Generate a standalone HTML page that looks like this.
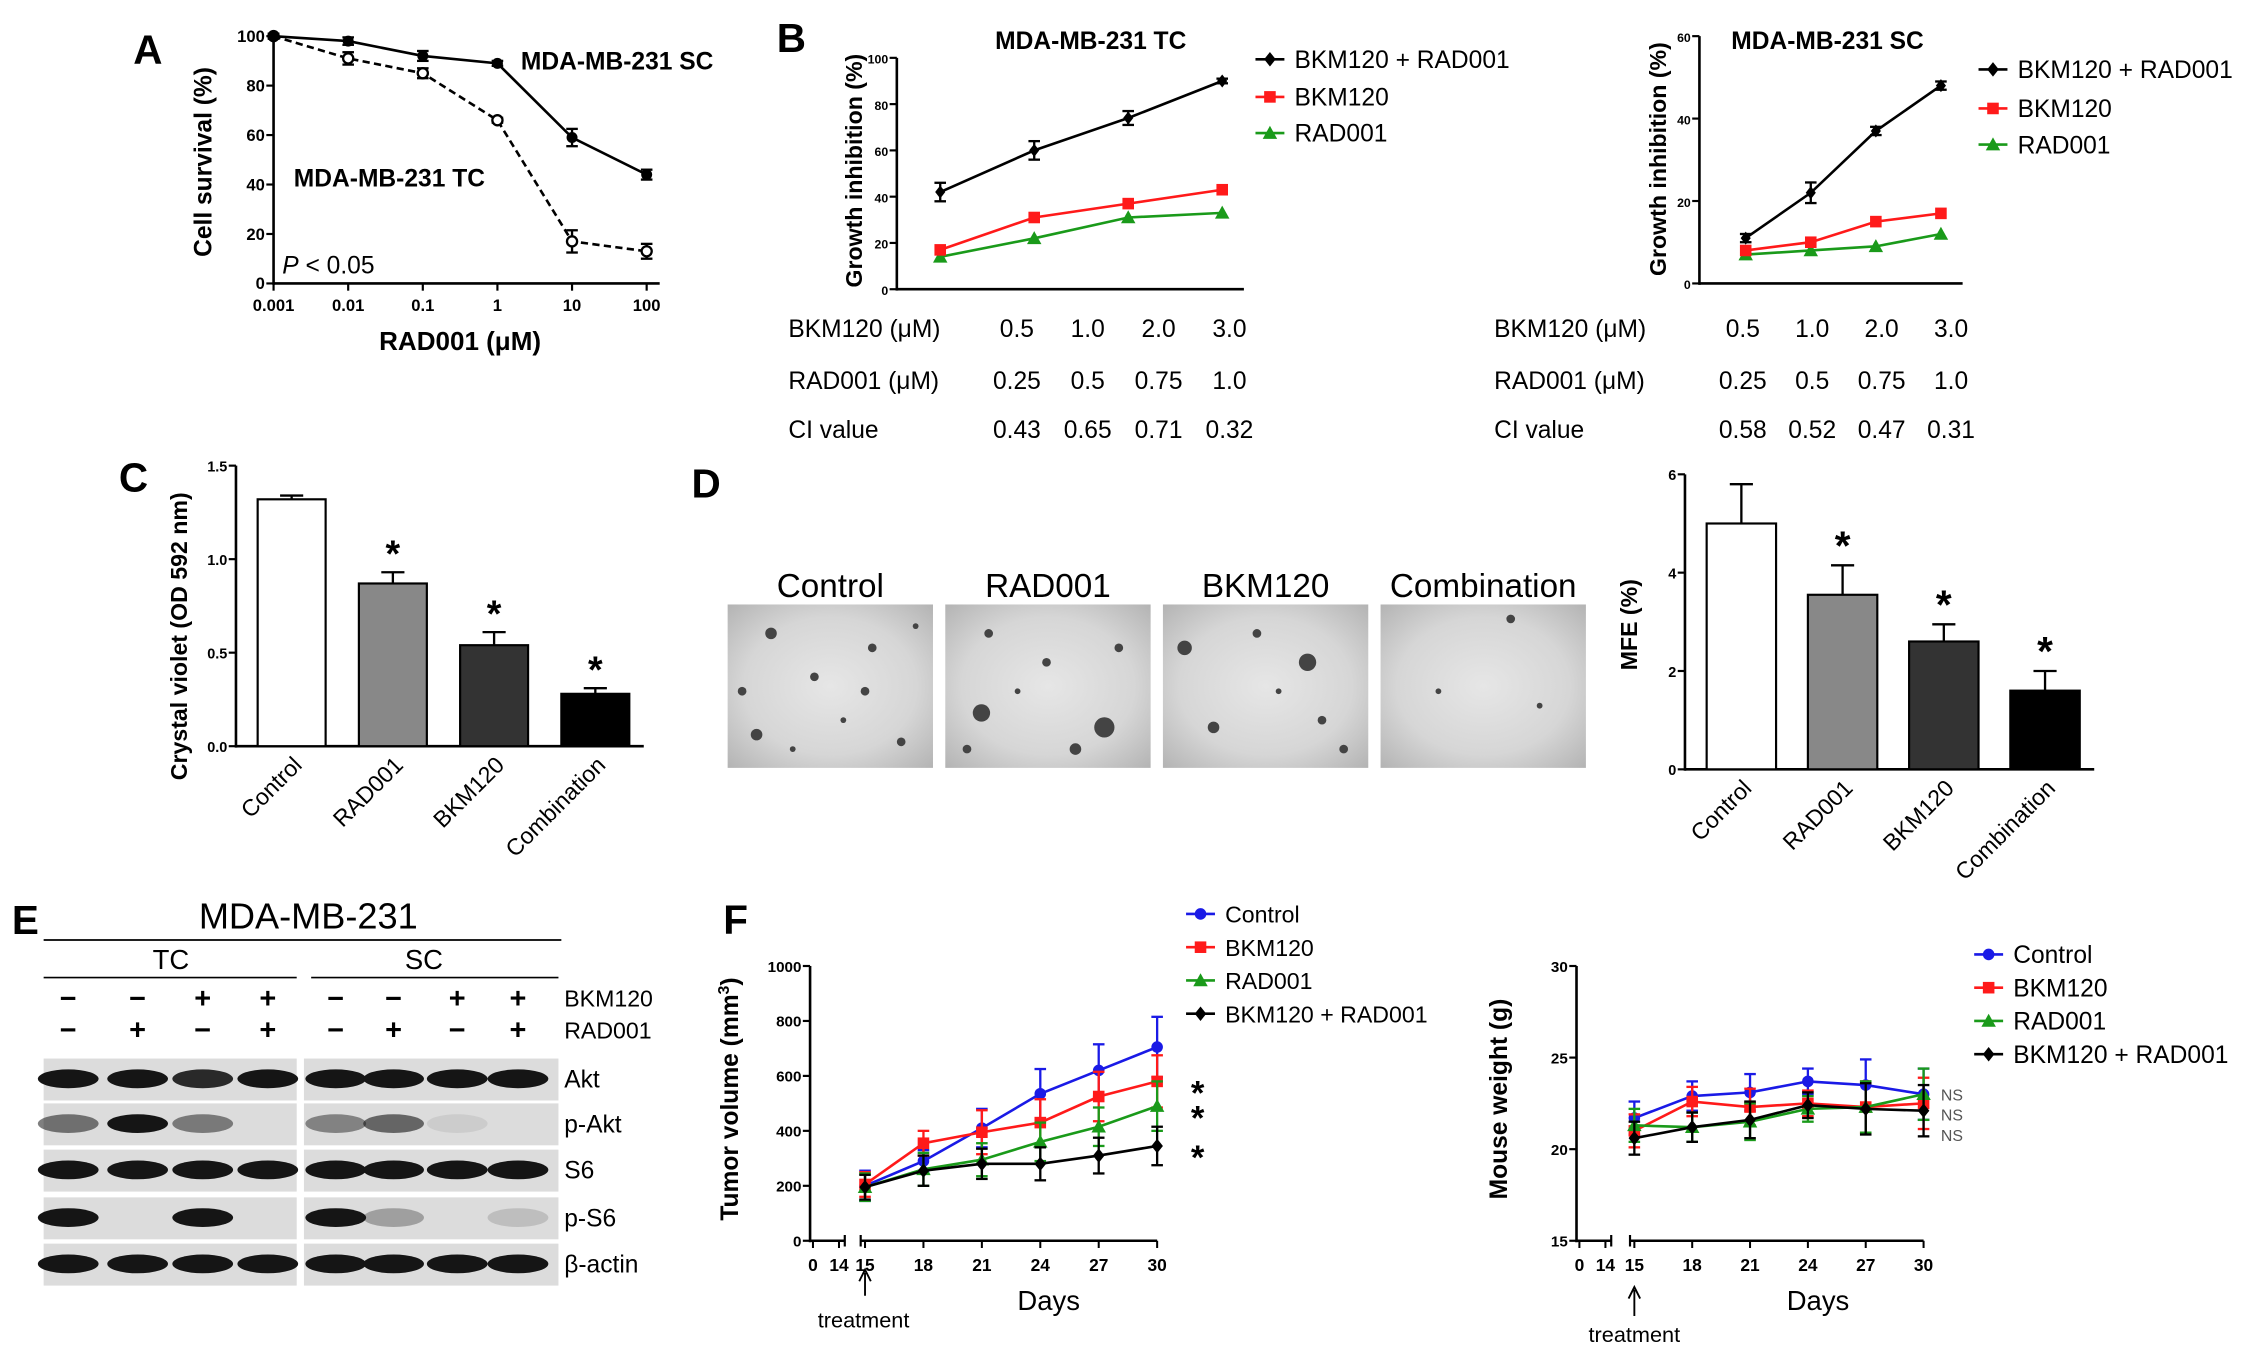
<!DOCTYPE html>
<html><head><meta charset="utf-8"><style>
html,body{margin:0;padding:0;background:#fff;}
svg{display:block;font-family:"Liberation Sans",sans-serif;}
.b{font-weight:bold}
</style></head><body>
<svg id="fig" xmlns="http://www.w3.org/2000/svg" width="2268" height="1355" viewBox="0 0 1568 937">
<defs>
<radialGradient id="micro" cx="50%" cy="50%" r="70%">
<stop offset="0" stop-color="#e6e6e6"/><stop offset="0.6" stop-color="#d6d6d6"/><stop offset="1" stop-color="#b4b4b4"/>
</radialGradient>
</defs>
<rect width="1568" height="937" fill="#fff"/>
<text x="92" y="44" font-size="28" class="b">A</text>
<text transform="translate(146,112) rotate(-90)" text-anchor="middle" font-size="17" class="b">Cell survival (%)</text>
<text x="318" y="242" text-anchor="middle" font-size="18" class="b">RAD001 (μM)</text>
<text x="360" y="48" font-size="17" class="b">MDA-MB-231 SC</text>
<text x="203" y="129" font-size="17" class="b">MDA-MB-231 TC</text>
<text x="195" y="189" font-size="17"><tspan font-style="italic">P</tspan> &lt; 0.05</text>
<text x="537" y="36" font-size="28" class="b">B</text>
<text x="688" y="34" font-size="17" class="b">MDA-MB-231 TC</text>
<text transform="translate(596,118) rotate(-90)" text-anchor="middle" font-size="16" class="b">Growth inhibition (%)</text>
<text x="1197" y="34" font-size="17" class="b">MDA-MB-231 SC</text>
<text transform="translate(1152,110) rotate(-90)" text-anchor="middle" font-size="16" class="b">Growth inhibition (%)</text>
<text x="82" y="340" font-size="28" class="b">C</text>
<text transform="translate(129,440) rotate(-90)" text-anchor="middle" font-size="16" class="b">Crystal violet (OD 592 nm)</text>
<text x="478" y="344" font-size="28" class="b">D</text>
<text transform="translate(1132,432) rotate(-90)" text-anchor="middle" font-size="16" class="b">MFE (%)</text>
<text x="8" y="646" font-size="28" class="b">E</text>
<text x="500" y="646" font-size="28" class="b">F</text>
<text transform="translate(510,760) rotate(-90)" text-anchor="middle" font-size="17" class="b">Tumor volume (mm<tspan dy="-6" font-size="11">3</tspan><tspan dy="6">)</tspan></text>
<text x="725" y="906" text-anchor="middle" font-size="19">Days</text>
<text x="597" y="918" text-anchor="middle" font-size="15">treatment</text>
<path d="M598 896 V880 M594 886 L598 878 L602 886" stroke="#000" stroke-width="1.3" fill="none"/>
<text transform="translate(1042,760) rotate(-90)" text-anchor="middle" font-size="17" class="b">Mouse weight (g)</text>
<text x="1257" y="906" text-anchor="middle" font-size="19">Days</text>
<text x="1130" y="928" text-anchor="middle" font-size="15">treatment</text>
<path d="M1130 910 V892 M1126 898 L1130 890 L1134 898" stroke="#000" stroke-width="1.3" fill="none"/>
<text x="213" y="642" text-anchor="middle" font-size="25">MDA-MB-231</text>
<line x1="30" y1="650" x2="388" y2="650" stroke="#000" stroke-width="1.2"/>
<text x="118" y="670" text-anchor="middle" font-size="19">TC</text>
<line x1="30" y1="676" x2="205" y2="676" stroke="#000" stroke-width="1.2"/>
<text x="293" y="670" text-anchor="middle" font-size="19">SC</text>
<line x1="215" y1="676" x2="386" y2="676" stroke="#000" stroke-width="1.2"/>
<text x="390" y="696" font-size="16">BKM120</text>
<text x="390" y="718" font-size="16">RAD001</text>
<g id="layer"></g>
</svg>
<script>
const aDoses = ["0.001","0.01","0.1","1","10","100"];
const aSC = [100, 98, 92, 89, 59, 44];
const aSCerr = [1, 1.5, 2, 1, 3.5, 2];
const aTC = [100, 91, 85, 66, 17, 13];
const aTCerr = [1, 2.5, 2, 1, 4.5, 3];
const aYTicks = [0, 20, 40, 60, 80, 100];

const bSeriesNames = ["BKM120 + RAD001", "BKM120", "RAD001"];
const bTCCombo = [42, 60, 74, 90];
const bTCBkm = [17, 31, 37, 43];
const bTCRad = [14, 22, 31, 33];
const bTCComboErr = [4, 4, 3, 1];
const bTCYTicks = [0, 20, 40, 60, 80, 100];
const bSCCombo = [11, 22, 37, 48];
const bSCBkm = [8, 10, 15, 17];
const bSCRad = [7, 8, 9, 12];
const bSCComboErr = [1, 2.5, 1, 1];
const bSCYTicks = [0, 20, 40, 60];
const bBkmDose = ["0.5", "1.0", "2.0", "3.0"];
const bRadDose = ["0.25", "0.5", "0.75", "1.0"];
const bTCci = ["0.43", "0.65", "0.71", "0.32"];
const bSCci = ["0.58", "0.52", "0.47", "0.31"];

const barCats = ["Control", "RAD001", "BKM120", "Combination"];
const cVals = [1.32, 0.87, 0.54, 0.28];
const cErr = [0.02, 0.06, 0.07, 0.03];
const cYTicks = [0, 0.5, 1.0, 1.5];
const cTickLabels = ["0.0", "0.5", "1.0", "1.5"];
const dVals = [5.0, 3.55, 2.6, 1.6];
const dErr = [0.8, 0.6, 0.35, 0.4];
const dYTicks = [0, 2, 4, 6];

const eBkm = ["−","−","+","+","−","−","+","+"];
const eRad = ["−","+","−","+","−","+","−","+"];
const eRows = ["Akt", "p-Akt", "S6", "p-S6", "β-actin"];
const eAkt = [1,1,0.9,1, 1,1,1,1];
const ePAkt = [0.55,1,0.5,0, 0.45,0.6,0.08,0];
const eS6 = [1,1,1,1, 1,1,1,1];
const ePS6 = [1,0,1,0, 1,0.3,0,0.15];
const eActin = [1,1,1,1, 1,1,1,1];

const fDays = [15, 18, 21, 24, 27, 30];
const fNames = ["Control", "BKM120", "RAD001", "BKM120 + RAD001"];
const fCtrl = [200, 290, 410, 535, 620, 705];
const fCtrlErr = [55, 40, 70, 90, 95, 110];
const fBkm = [205, 355, 395, 430, 525, 580];
const fBkmErr = [45, 45, 80, 85, 90, 95];
const fRad = [195, 260, 295, 360, 415, 490];
const fRadErr = [50, 60, 60, 70, 70, 90];
const fCombo = [195, 255, 280, 280, 310, 345];
const fComboErr = [45, 55, 55, 60, 65, 70];
const fYTicks = [0, 200, 400, 600, 800, 1000];
const wCtrl = [21.7, 22.9, 23.1, 23.7, 23.5, 23.0];
const wBkm = [21.0, 22.6, 22.3, 22.5, 22.3, 22.5];
const wRad = [21.3, 21.2, 21.5, 22.2, 22.3, 23.0];
const wCombo = [20.6, 21.2, 21.6, 22.4, 22.2, 22.1];
const wErr = [0.9, 0.8, 1.0, 0.7, 1.4, 1.4];
const wYTicks = [15, 20, 25, 30];

const NS = "http://www.w3.org/2000/svg";
const layer = document.getElementById("layer");
function mk(tag, attrs, parent) {
  const el = document.createElementNS(NS, tag);
  for (const k in attrs) el.setAttribute(k, attrs[k]);
  (parent || layer).appendChild(el);
  return el;
}
function txt(s, x, y, size, anchor, extra) {
  const el = mk("text", Object.assign({x: x, y: y, "font-size": size, "text-anchor": anchor || "start"}, extra || {}));
  el.textContent = s;
  return el;
}
function marker(type, x, y, color, r) {
  let el;
  if (type === "circle") el = mk("circle", {cx: x, cy: y, r: r, fill: color});
  else if (type === "ocircle") el = mk("circle", {cx: x, cy: y, r: r, fill: "#fff", stroke: color, "stroke-width": 1.6});
  else if (type === "square") el = mk("rect", {x: x - r, y: y - r, width: 2 * r, height: 2 * r, fill: color});
  else if (type === "tri") el = mk("polygon", {points: (x) + "," + (y - r - 1) + " " + (x - r - 1) + "," + (y + r) + " " + (x + r + 1) + "," + (y + r), fill: color});
  else el = mk("polygon", {points: x + "," + (y - r - 1) + " " + (x + r) + "," + y + " " + x + "," + (y + r + 1) + " " + (x - r) + "," + y, fill: color});
  return el;
}
function yAxis(x, y0, y1, ticks, labels, scale, name, fs) {
  const ax = mk("line", {x1: x, y1: y0 + 1, x2: x, y2: y1, stroke: "#000", "stroke-width": 1.8});
  
  
  ticks.forEach((t, i) => {
    const y = scale(t);
    mk("line", {x1: x - 5, y1: y, x2: x, y2: y, stroke: "#000", "stroke-width": 1.5});
    const l = txt(labels[i], x - 6, y + 4, fs || 11.5, "end", {"font-weight": "bold"});
    
    
  });
}
function errBar(x, y0, y1, color, w) {
  mk("line", {x1: x, y1: y0, x2: x, y2: y1, stroke: color, "stroke-width": 1.6});
  mk("line", {x1: x - w, y1: y1, x2: x + w, y2: y1, stroke: color, "stroke-width": 1.6});
}
function series(xf, yf, vals, errs, color, mtype, r, dash, name, both) {
  const pts = vals.map((v, i) => xf(i) + "," + yf(v)).join(" ");
  const pl = mk("polyline", {points: pts, fill: "none", stroke: color, "stroke-width": 1.8, "stroke-dasharray": dash || "none"});
  
  
  vals.forEach((v, i) => {
    if (errs) {
      errBar(xf(i), yf(v), yf(v + errs[i]), color, 4);
      if (both) errBar(xf(i), yf(v), yf(v - errs[i]), color, 4);
    }
    const m = marker(mtype, xf(i), yf(v), color, r);
    
    
  });
}
function legendEntry(x, y, color, mtype, label, size) {
  mk("line", {x1: x, y1: y, x2: x + 20, y2: y, stroke: color, "stroke-width": 1.8});
  marker(mtype, x + 10, y, color, 4);
  const t = txt(label, x + 27, y + 6, size, "start");
  
  
}

(function () {
  const X0 = 189, DX = 51.6, Y0 = 196, Y1 = 25;
  const xf = i => X0 + i * DX;
  const yf = v => Y0 - (v / 100) * (Y0 - Y1);
  yAxis(X0, Y0, Y1, aYTicks, aYTicks.map(String), yf, "a");
  const xa = mk("line", {x1: X0, y1: Y0, x2: 456, y2: Y0, stroke: "#000", "stroke-width": 1.8});
  
  
  aDoses.forEach((d, i) => {
    mk("line", {x1: xf(i), y1: Y0, x2: xf(i), y2: Y0 + 5, stroke: "#000", "stroke-width": 1.5});
    const t = txt(d, xf(i), Y0 + 19, 11.5, "middle", {"font-weight": "bold"});
    
    
  });
  series(xf, yf, aTC, aTCerr, "#000", "ocircle", 3.5, "5,3", "a-tc", true);
  series(xf, yf, aSC, aSCerr, "#000", "circle", 3.8, null, "a-sc", true);
})();

function panelB(ax, y0, y1, ymax, ticks, xs, combo, comboErr, bkm, rad, legX, legY, labX, cols, ci, pre) {
  const xf = i => xs[0] + i * (xs[1] - xs[0]);
  const yf = v => y0 - (v / ymax) * (y0 - y1);
  yAxis(ax, y0, y1, ticks, ticks.map(String), yf, pre, 8.5);
  const xa = mk("line", {x1: ax, y1: y0, x2: xf(3) + 15, y2: y0, stroke: "#000", "stroke-width": 1.8});
  
  
  series(xf, yf, rad, null, "#1a9a1a", "tri", 4, null, pre + "-rad001");
  series(xf, yf, bkm, null, "#ff1a1a", "square", 4, null, pre + "-bkm120");
  series(xf, yf, combo, comboErr, "#000", "diamond", 3.5, null, pre + "-combo", true);
  legendEntry(legX, legY[0], "#000", "diamond", bSeriesNames[0], 17);
  legendEntry(legX, legY[1], "#ff1a1a", "square", bSeriesNames[1], 17);
  legendEntry(legX, legY[2], "#1a9a1a", "tri", bSeriesNames[2], 17);
  const rows = [["BKM120 (μM)", bBkmDose, 233], ["RAD001 (μM)", bRadDose, 269], ["CI value", ci, 303]];
  rows.forEach(r => {
    const l = txt(r[0], labX, r[2], 17, "start");
    
    
    r[1].forEach((v, i) => {
      const c = txt(v, cols[0] + i * (cols[1] - cols[0]), r[2], 17, "middle");
      
      
    });
  });
}
panelB(620, 200, 40, 100, bTCYTicks, [650, 715], bTCCombo, bTCComboErr, bTCBkm, bTCRad, 868, [41, 67, 92], 545, [703, 752], bTCci, "b-tc");
panelB(1175, 196, 25, 60, bSCYTicks, [1207, 1252], bSCCombo, bSCComboErr, bSCBkm, bSCRad, 1368, [48, 75, 100], 1033, [1205, 1253], bSCci, "b-sc");

const barFills = ["#fff", "#888", "#333", "#000"];
function barPanel(ax, y0, y1, ymax, ticks, tlabels, vals, errs, x0, step, bw, pre, starSize) {
  const yf = v => y0 - (v / ymax) * (y0 - y1);
  yAxis(ax, y0, y1, ticks, tlabels, yf, pre, 10);
  const xa = mk("line", {x1: ax, y1: y0, x2: x0 + 3 * step + bw + 10, y2: y0, stroke: "#000", "stroke-width": 1.8});
  
  
  vals.forEach((v, i) => {
    const x = x0 + i * step;
    errBar(x + bw / 2, yf(v), yf(v + errs[i]), "#000", 8);
    const b = mk("rect", {x: x, y: yf(v), width: bw, height: y0 - yf(v), fill: barFills[i], stroke: "#000", "stroke-width": 1.5});
    
    
    if (i > 0) {
      const s = txt("*", x + bw / 2, yf(v + errs[i]) - 4, starSize, "middle", {"font-weight": "bold"});
      
      
    }
    const l = txt(barCats[i], x + bw / 2 + 8, y0 + 14, 16, "end", {transform: "rotate(-45 " + (x + bw / 2 + 8) + " " + (y0 + 14) + ")"});
    
    
  });
}
barPanel(163, 516, 322, 1.5, cYTicks, cTickLabels, cVals, cErr, 178, 70, 47, "c", 26);
barPanel(1165, 532, 328, 6, dYTicks, dYTicks.map(String), dVals, dErr, 1180, 70, 48, "d", 28);

const colonyDots = [[[30,20,4],[60,50,3],[100,30,3],[20,90,4],[120,95,3],[80,80,2],[10,60,3],[130,15,2],[95,60,3],[45,100,2]],
  [[25,75,6],[110,85,7],[70,40,3],[30,20,3],[120,30,3],[90,100,4],[50,60,2],[15,100,3]],
  [[15,30,5],[100,40,6],[35,85,4],[110,80,3],[65,20,3],[125,100,3],[80,60,2]],
  [[90,10,3],[40,60,2],[110,70,2]]];
barCats.forEach((c, i) => {
  const x = 503 + i * 150.5;
  const g = mk("g", {});
  
  
  mk("rect", {x: x, y: 418, width: 142, height: 113, fill: "url(#micro)"}, g);
  colonyDots[i].forEach(d => mk("circle", {cx: x + d[0], cy: 418 + d[1], r: d[2], fill: "#444"}, g));
  const t = txt(c, x + 71, 413, 23, "middle");
  
  
});

const eCols = [47, 95, 140, 185, 232, 272, 316, 358];
eCols.forEach((x, i) => {
  const a = txt(eBkm[i], x, 697, 20, "middle", {"font-weight": "bold"});
  
  
  const b = txt(eRad[i], x, 719, 20, "middle", {"font-weight": "bold"});
  
  
});
const eData = [eAkt, ePAkt, eS6, ePS6, eActin];
const eRowY = [732, 763, 795, 828, 860];
eRows.forEach((r, ri) => {
  const y = eRowY[ri];
  [[30, 205], [210, 386]].forEach((blk, bi) => {
    const rr = mk("rect", {x: blk[0], y: y, width: blk[1] - blk[0], height: 29, fill: "#dcdcdc"});
    
    
    for (let k = 0; k < 4; k++) {
      const idx = bi * 4 + k, v = eData[ri][idx];
      if (v <= 0) continue;
      const band = mk("ellipse", {cx: eCols[idx], cy: y + 14, rx: 21, ry: 6.5, fill: "#151515", opacity: v});
      
      
    }
  });
  const t = txt(r, 390, y + 20, 17, "start");
  
  
});

const fColors = ["#1a1ae6", "#ff1a1a", "#1a9a1a", "#000"];
const fMarkers = ["circle", "square", "tri", "diamond"];
function fPanel(ax, y0, y1, ymin, ymax, ticks, xStart, xStep, sets, errsets, pre, legX, legY, legSize) {
  const yf = v => y0 - ((v - ymin) / (ymax - ymin)) * (y0 - y1);
  const xf = i => xStart + i * xStep;
  yAxis(ax, y0, y1, ticks, ticks.map(String), yf, pre, 10.5);
  const xa = mk("path", {d: "M" + ax + " " + y0 + " H" + (ax + 24) + " M" + (xStart - 3) + " " + y0 + " H" + xf(5), stroke: "#000", "stroke-width": 1.8, fill: "none"});
  
  
  mk("path", {d: "M" + (ax + 24) + " " + (y0 - 4) + " v8 M" + (xStart - 3) + " " + (y0 - 4) + " v8", stroke: "#000", "stroke-width": 1.5});
  const tl = [["0", ax + 2], ["14", ax + 20]].concat(fDays.map((d, i) => [String(d), xf(i)]));
  tl.forEach(t => {
    mk("line", {x1: t[1], y1: y0, x2: t[1], y2: y0 + 5, stroke: "#000", "stroke-width": 1.4});
    const l = txt(t[0], t[1], y0 + 21, 12, "middle", {"font-weight": "bold"});
    
    
  });
  sets.forEach((s, k) => series(xf, yf, s, errsets[k], fColors[k], fMarkers[k], 4, null, pre + "-" + fNames[k].toLowerCase().replace(/[^a-z0-9]+/g, "-"), true));
  fNames.forEach((n, k) => legendEntry(legX, legY + k * 23, fColors[k], fMarkers[k], n, legSize));
  return yf;
}
const yfT = fPanel(560, 858, 668, 0, 1000, fYTicks, 598, 40.4, [fCtrl, fBkm, fRad, fCombo], [fCtrlErr, fBkmErr, fRadErr, fComboErr], "f-tumor", 820, 632, 16);
[fBkm, fRad, fCombo].forEach(s => {
  const st = txt("*", 828, yfT(s[5]) + 16, 24, "middle", {"font-weight": "bold"});
  
  
});
const yfW = fPanel(1090, 858, 668, 15, 30, wYTicks, 1130, 40, [wCtrl, wBkm, wRad, wCombo], [wErr, wErr, wErr, wErr], "f-weight", 1365, 660, 17);
[757, 771, 785].forEach(y => {
  const n = txt("NS", 1342, y + 4, 11, "start", {fill: "#555"});
  
  
});
</script>
</body></html>
